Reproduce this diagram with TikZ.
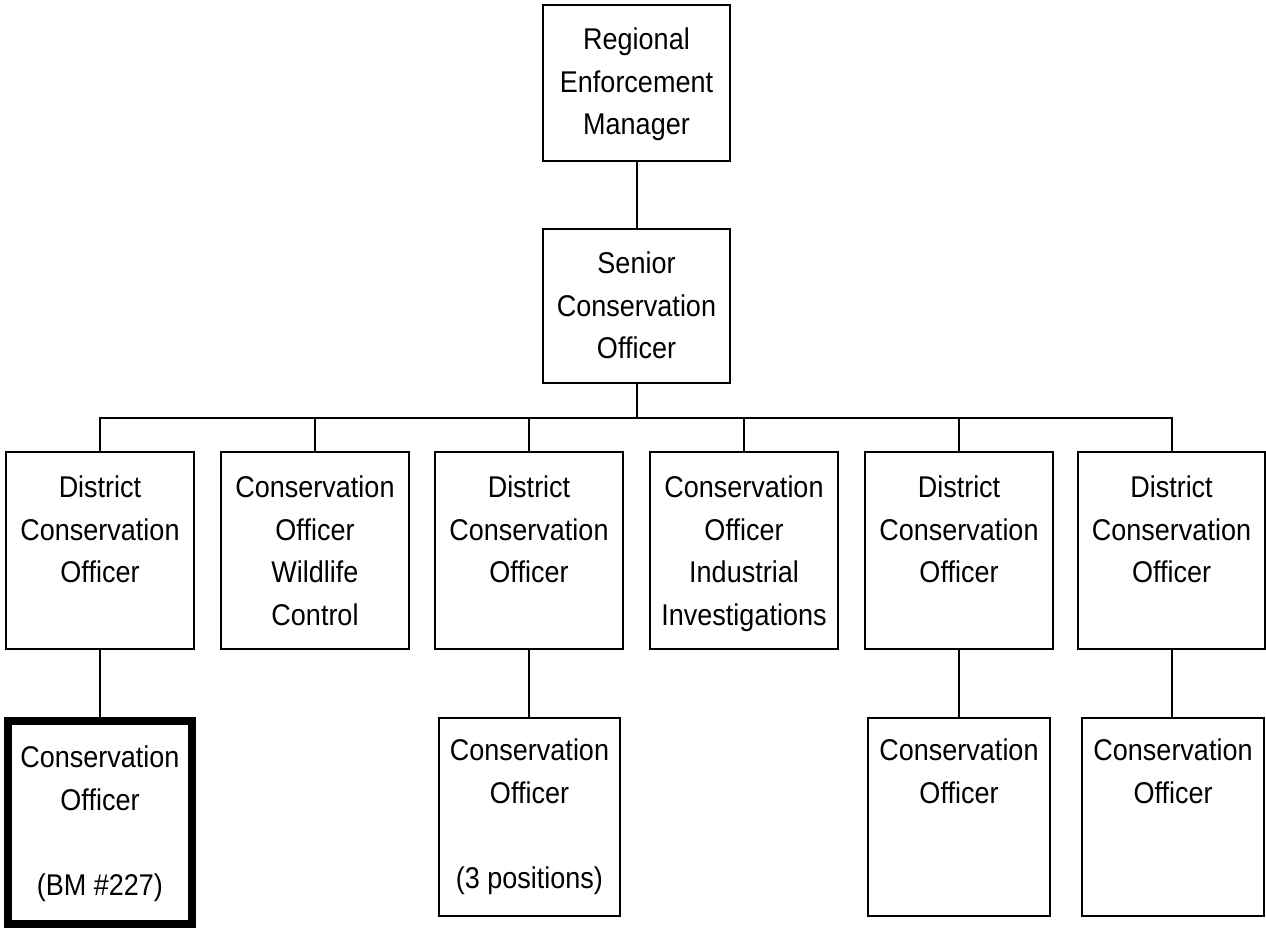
\documentclass[tikz,border=0pt]{standalone}
\usepackage{fontspec}
\setmainfont{Liberation Sans}[FakeStretch=0.9]
\newcommand{\bx}[4]{\begin{minipage}[t][#2pt][t]{#1pt}\centering\vspace*{#3pt}#4\end{minipage}}
\begin{document}
\begin{tikzpicture}[x=1pt,y=-1pt,
  box/.style={draw=black, line width=2pt, inner sep=0pt, outer sep=0pt, fill=white},
  boldbox/.style={box, line width=7.5pt},
  link/.style={draw=black, line width=2pt},
  font=\fontsize{30}{42.5}\selectfont]
\fill[white] (0,0) rectangle (1266,928);
\useasboundingbox (0,0) rectangle (1266,928);

\node[box,anchor=north west] (rem) at (543,5) {\bx{187}{156}{23}{Regional\\Enforcement\\Manager}};
\node[box,anchor=north west] (sco) at (543,229) {\bx{187}{154}{23}{Senior\\Conservation\\Officer}};

\node[box,anchor=north west] (d1) at (6,452) {\bx{188}{197}{24}{District\\Conservation\\Officer}};
\node[box,anchor=north west] (cw) at (221,452) {\bx{188}{197}{24}{Conservation\\Officer\\Wildlife\\Control}};
\node[box,anchor=north west] (d2) at (435,452) {\bx{188}{197}{24}{District\\Conservation\\Officer}};
\node[box,anchor=north west] (ci) at (650,452) {\bx{188}{197}{24}{Conservation\\Officer\\Industrial\\Investigations}};
\node[box,anchor=north west] (d3) at (865,452) {\bx{188}{197}{24}{District\\Conservation\\Officer}};
\node[box,anchor=north west] (d4) at (1078,452) {\bx{187}{197}{24}{District\\Conservation\\Officer}};

\node[boldbox,anchor=north west] (c1) at (8,721) {\bx{184}{203}{25}{Conservation\\Officer\\[42.5pt](BM \#227)}};
\node[box,anchor=north west] (c2) at (439,718) {\bx{181}{198}{21}{Conservation\\Officer\\[42.5pt](3 positions)}};
\node[box,anchor=north west] (c3) at (868,718) {\bx{182}{198}{21}{Conservation\\Officer}};
\node[box,anchor=north west] (c4) at (1082,718) {\bx{182}{198}{21}{Conservation\\Officer}};

\coordinate (bus) at (636.5,418);
\draw[link] (rem.south) -- (sco.north);
\draw[link] (sco.south) -- (bus);
\draw[link] (d1.north) |- (bus) -| (d4.north);
\foreach \n in {cw,d2,ci,d3} {\draw[link] (\n.north) -- (\n.north |- bus);}
\draw[link] (d1.south) -- (d1.south |- c1.north);
\draw[link] (d2.south) -- (d2.south |- c2.north);
\draw[link] (d3.south) -- (d3.south |- c3.north);
\draw[link] (d4.south) -- (d4.south |- c4.north);
\end{tikzpicture}
\end{document}
